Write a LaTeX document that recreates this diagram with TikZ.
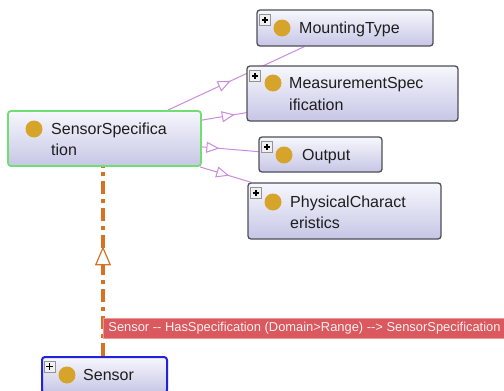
\documentclass[tikz,border=0pt]{standalone}
\usepackage{fontspec}
\setmainfont{Liberation Sans}
\usetikzlibrary{arrows.meta,decorations.markings,backgrounds}
\definecolor{boxedge}{RGB}{78,78,88}
\definecolor{boxtop}{RGB}{247,247,253}
\definecolor{boxbot}{RGB}{198,198,230}
\definecolor{selgreen}{RGB}{112,222,112}
\definecolor{selblue}{RGB}{34,34,214}
\definecolor{gold}{RGB}{214,164,42}
\definecolor{subedge}{RGB}{204,138,224}
\definecolor{propedge}{RGB}{214,114,36}
\definecolor{tipred}{RGB}{217,89,95}
\definecolor{tipline}{RGB}{236,150,150}
\definecolor{txt}{RGB}{30,30,30}
\begin{document}
\begin{tikzpicture}[x=1pt,y=-1pt,
  cls/.style={draw=boxedge, line width=1.3pt, rounded corners=3pt,
    top color=boxtop, bottom color=boxbot, inner sep=0pt},
  dot/.style={circle, fill=gold, minimum size=17pt, inner sep=0pt},
  lbl/.style={font=\fontsize{16}{20}\selectfont, text=txt, inner sep=0pt, anchor=base west},
  plusbox/.style={draw=gray!85, line width=0.8pt, fill=gray!12, minimum size=10.5pt, inner sep=0pt, anchor=north west,
    path picture={\draw[black, line width=1.4pt]
      ([xshift=2pt]path picture bounding box.west) -- ([xshift=-2pt]path picture bounding box.east)
      ([yshift=-2pt]path picture bounding box.north) -- ([yshift=2pt]path picture bounding box.south);}},
  subline/.style={draw=subedge, line width=1pt, postaction={decorate},
    decoration={markings, mark=at position #1 with
      {\arrow{Triangle[length=13pt, width=11pt, fill=white, line width=1pt]}}}},
  propline/.style={draw=propedge, line width=4pt, dash pattern=on 13pt off 5pt on 4pt off 5pt},
  propmark/.style={propedge, postaction={decorate},
    decoration={markings, mark=at position #1 with
      {\arrow{Triangle[length=19pt, width=16pt, fill=white, line width=1.2pt]}}}},
  tip/.style={fill=tipred, draw=tipline, line width=0.8pt, text=white!94!red,
    font=\fontsize{12.9}{15}\selectfont, inner xsep=5pt, minimum height=20pt, anchor=west}
]
\useasboundingbox (0,0) rectangle (504,391);

% class boxes
\node[cls, minimum width=176pt, minimum height=36pt] (mt) at (345,28) {};
\node[cls, minimum width=211pt, minimum height=55pt] (ms) at (352.5,93.5) {};
\node[cls, minimum width=123pt, minimum height=35pt] (out) at (320.5,154.5) {};
\node[cls, minimum width=193pt, minimum height=56pt] (pc) at (344.5,211) {};
\node[cls, draw=selgreen, line width=1.8pt, minimum width=193pt, minimum height=55pt] (ss) at (104.5,138.5) {};
\node[cls, draw=selblue, line width=2pt, minimum width=125pt, minimum height=36pt] (sen) at (104.5,375) {};

% expand icons
\node[plusbox] (mt-p) at ([xshift=3pt,yshift=-5pt]mt.north west) {};
\node[plusbox] (ms-p) at ([xshift=3pt,yshift=-5pt]ms.north west) {};
\node[plusbox] (out-p) at ([xshift=3pt,yshift=-5pt]out.north west) {};
\node[plusbox] (pc-p) at ([xshift=3pt,yshift=-5pt]pc.north west) {};
\node[plusbox] (sen-p) at ([xshift=3pt,yshift=-5pt]sen.north west) {};

% class markers
\node[dot] (mt-d) at (282,28) {};
\node[dot] (ms-d) at (273,83) {};
\node[dot] (out-d) at (284,155) {};
\node[dot] (pc-d) at (273,202) {};
\node[dot] (ss-d) at (34,129) {};
\node[dot] (sen-d) at (67,375) {};

% class names
\node[lbl] (mt-t) at (299,33.7) {MountingType};
\node[lbl] (ms-t1) at (289,88.7) {MeasurementSpec};
\node[lbl] (ms-t2) at (289,110.7) {ification};
\node[lbl] (out-t) at (302,160.7) {Output};
\node[lbl] (pc-t1) at (290,207.7) {PhysicalCharact};
\node[lbl] (pc-t2) at (290,228.7) {eristics};
\node[lbl] (ss-t1) at (51,134.7) {SensorSpecifica};
\node[lbl] (ss-t2) at (51,155.7) {tion};
\node[lbl] (sen-t) at (83,380.7) {Sensor};

% relation label
\node[tip] (rel) at (103,328) {Sensor -\kern0pt- HasSpecification (Domain>Range) -\kern0pt-> SensorSpecification};

\begin{scope}[on background layer]
  % subclass edges
  \draw[subline=0.46] ([xshift=-34pt]ss.north east) -- ([xshift=48pt]mt.south west);
  \draw[subline=0.74] ([yshift=-10pt]ss.north east) -- ([yshift=9pt]ms.south west);
  \draw[subline=0.31] ([yshift=20pt]ss.south east) -- ([yshift=21pt]out.south west);
  \draw[subline=0.57] ([xshift=-2pt]ss.south east) -- ([xshift=4pt]pc.north west);
  % object property edge, with its open arrowhead half way up
  \draw[propline] ([xshift=-1.5pt]sen.north) -- ([xshift=-1.5pt]ss.south);
  \path[propmark=0.58] ([xshift=-1.5pt]sen.north) -- ([xshift=-1.5pt]ss.south);
\end{scope}
\end{tikzpicture}
\end{document}
